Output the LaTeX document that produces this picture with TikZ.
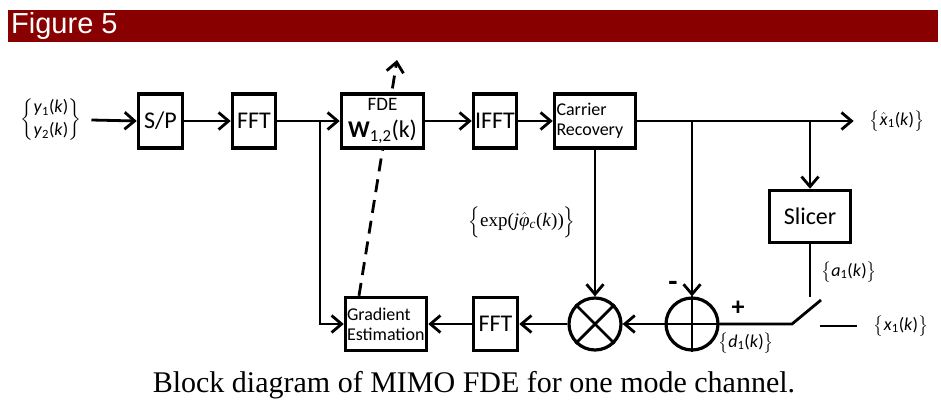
\documentclass[tikz,border=0pt]{standalone}
\usepackage{amsmath}
\usepackage{exscale}
\usepackage[no-math]{fontspec}
\setmainfont{Carlito}
\newfontfamily\serifcap{Liberation Serif}
\newfontfamily\headfont{Liberation Sans}
\usetikzlibrary{arrows.meta,backgrounds}
\definecolor{headred}{RGB}{136,0,0}
% italic signal name with subscript and (k)
\newcommand\signame[2]{\mbox{\textit{#1}\textsubscript{#2}(\textit{k})}}

\begin{document}
\begin{tikzpicture}[x=1pt,y=-1pt,
  wire/.style={line width=2.8pt},
  sig/.style={wire,-{Straight Barb[length=10pt,width=17pt]}},
  blk/.style={draw,line width=3.5pt,fill=white,inner sep=0pt,align=center},
  sumnode/.style={draw,circle,line width=3.2pt,minimum size=52pt,inner sep=0pt},
  lbl/.style={inner sep=0pt,font=\fontsize{18}{21}\selectfont},
  big/.style={font=\fontsize{24}{26}\selectfont},
  small/.style={font=\fontsize{18}{20}\selectfont},
]
\useasboundingbox (0,0) rectangle (941,408);

% title bar
\fill[headred] (8,10) rectangle (938,42);
\node[anchor=west,inner sep=0pt,text=white,font=\headfont\fontsize{29}{30}\selectfont] (title) at (11,26) {Figure 5};

% forward path
\node[blk,big,minimum width=44pt,minimum height=54pt] (sp) at (160.5,121) {S/P};
\node[blk,big,minimum width=43pt,minimum height=54pt] (fft1) at (254,121) {FFT};
\node[blk,font=\fontsize{19}{27}\selectfont,minimum width=82pt,minimum height=54pt] (fde) at (382.5,121)
  {FDE\\{\fontsize{24}{26}\selectfont\textbf{W}\textsubscript{1,2}(k)}};
\node[blk,big,minimum width=43pt,minimum height=54pt] (ifft) at (495,121) {IFFT};
\node[blk,small,align=left,text width=77pt,inner xsep=2pt,minimum height=54pt] (cr) at (595,121) {Carrier\\Recovery};
\node[blk,big,minimum width=81pt,minimum height=52pt] (slicer) at (810,216.5) {Slicer};

% feedback path
\node[blk,small,align=left,text width=78pt,inner xsep=1.5pt,minimum height=53pt] (ge) at (386,324) {Gradient\\Estimation};
\node[blk,big,minimum width=44pt,minimum height=53pt] (fft2) at (495.5,324) {FFT};
\node[sumnode] (mult) at (595,324) {};
\node[sumnode] (add) at (692,324) {};

% labels
\node[lbl] (yin) at (51,120) {$\left\{\begin{array}{@{}l@{}}\signame{y}{1}\\[2pt] \signame{y}{2}\end{array}\right\}$};
\node[lbl] (xh) at (897,121) {$\bigl\{\hat{\mbox{\textit{x}}}\mbox{\textsubscript{1}(\textit{k})}\bigr\}$};
\node[lbl] (xin) at (901,326) {$\bigl\{\signame{x}{1}\bigr\}$};
\node[lbl] (al) at (849,272) {$\bigl\{\signame{a}{1}\bigr\}$};
\node[lbl] (dl) at (746,343) {$\bigl\{\signame{d}{1}\bigr\}$};
\node[lbl,font=\serifcap\fontsize{19}{21}\selectfont] (ph) at (522,222)
  {$\Bigl\{\mbox{exp(\textit{j}}\hat{\mbox{\itshape φ}}\mbox{\textsubscript{\itshape c}(\textit{k}))}\Bigr\}$};
\node[inner sep=0pt,font=\bfseries\fontsize{30}{30}\selectfont] (minus) at (673,286) {-};
\node[inner sep=0pt,font=\bfseries\fontsize{26}{26}\selectfont] (plus) at (738,308) {+};

% branch points and switch contacts
\coordinate (b1) at (320,121);
\coordinate (b2) at (692,121);
\coordinate (b3) at (810,121);
\coordinate (swa) at (792,324);
\coordinate (swb) at (821,300);
\coordinate (swc) at (810,297);
\coordinate (xa) at (820,326);
\coordinate (xb) at (857,326);
\coordinate (dtip) at (397,60);

% coefficient update (dashed, behind the FDE block)
\begin{scope}[on background layer]
  \draw[sig,dash pattern=on 13pt off 8pt] ([xshift=-27pt]ge.north) -- (dtip);
\end{scope}

% connectors
\draw[sig] ([xshift=10pt]yin.east) -- (sp.west);
\draw[sig] (sp.east) -- (fft1.west);
\draw[sig] (fft1.east) -- (fde.west);
\draw[sig] (b1) |- (ge.west);
\draw[sig] (fde.east) -- (ifft.west);
\draw[sig] (ifft.east) -- (cr.west);
\draw[sig] (cr.east) -- ([xshift=-16pt]xh.west);
\draw[sig] (b2) -- (add.north);
\draw[sig] (b3) -- (slicer.north);
\draw[sig] (cr.south) -- (mult.north);
\draw[sig] (add.west) -- (mult.east);
\draw[sig] (mult.west) -- (fft2.east);
\draw[sig] (fft2.west) -- (ge.east);

% multiplier and adder symbols
\draw[wire] (mult.north west) -- (mult.south east) (mult.north east) -- (mult.south west);
\draw[wire] (add.north) -- (add.south) (add.west) -- (add.east);

% decision switch
\draw[wire] (add.east) -- (swa) -- (swb);
\draw[wire] (slicer.south) -- (swc);
\draw[wire] (xa) -- (xb);

% caption
\node[inner sep=0pt,font=\serifcap\fontsize{30}{32}\selectfont] (cap) at (474,385) {Block diagram of MIMO FDE for one mode channel.};
\end{tikzpicture}
\end{document}
